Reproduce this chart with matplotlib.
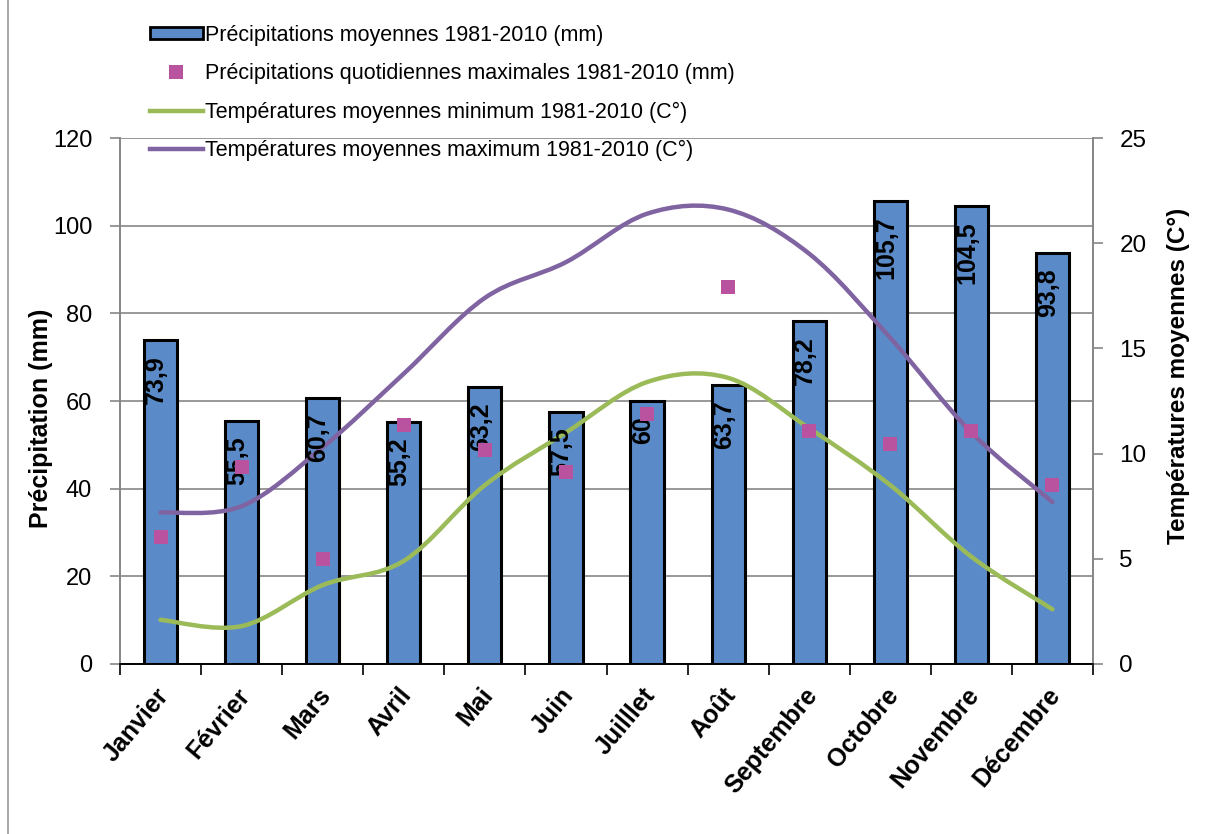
import matplotlib
matplotlib.use("Agg")
import matplotlib.pyplot as plt
from matplotlib.path import Path
from matplotlib.patches import PathPatch, Patch
from matplotlib.lines import Line2D
import matplotlib.transforms as mtransforms
import numpy as np

plt.rcParams['font.family'] = ['Liberation Sans', 'DejaVu Sans']

months = ["Janvier", "Février", "Mars", "Avril", "Mai", "Juin", "Juilllet",
          "Août", "Septembre", "Octobre", "Novembre", "Décembre"]
precip_mean = [73.9, 55.5, 60.7, 55.2, 63.2, 57.5, 60, 63.7, 78.2, 105.7, 104.5, 93.8]
precip_daily_max = [29.0, 45.0, 24.0, 54.5, 48.8, 43.9, 57.0, 85.9, 53.2, 50.1, 53.2, 40.8]
temp_min = [2.1, 1.8, 3.75, 4.9, 8.5, 11.0, 13.4, 13.6, 11.2, 8.5, 5.1, 2.6]
temp_max = [7.2, 7.5, 10.3, 13.8, 17.4, 19.1, 21.4, 21.6, 19.5, 15.5, 11.0, 7.7]

left_ticks = [0, 20, 40, 60, 80, 100, 120]
right_ticks = [0, 5, 10, 15, 20, 25]

lab_bar = "Précipitations moyennes 1981-2010 (mm)"
lab_pts = "Précipitations quotidiennes maximales 1981-2010 (mm)"
lab_min = "Températures moyennes minimum 1981-2010 (C°)"
lab_max = "Températures moyennes maximum 1981-2010 (C°)"

bar_color = '#5A8BC8'
pt_color = '#B9529F'
min_color = '#9BBB59'
max_color = '#8064A2'
grid_color = '#868686'

W, H = 1216, 834
fig = plt.figure(figsize=(W / 100, H / 100), dpi=100)
ax = fig.add_axes([120 / W, 1 - 664 / H, 973 / W, 526 / H])
ax2 = ax.twinx()

x = np.arange(len(months))

ax.set_axisbelow(True)
ax.yaxis.grid(True, color=grid_color, linewidth=1.2, zorder=0)
ax.bar(x, precip_mean, width=0.41, color=bar_color, edgecolor='black',
       linewidth=2.2, zorder=2)


def smooth_path(xs, ys):
    xs = list(xs); ys = list(ys)
    n = len(xs)
    verts = [(xs[0], ys[0])]
    codes = [Path.MOVETO]
    for i in range(n - 1):
        i0 = max(i - 1, 0)
        i3 = min(i + 2, n - 1)
        c1 = (xs[i] + (xs[i + 1] - xs[i0]) / 6, ys[i] + (ys[i + 1] - ys[i0]) / 6)
        c2 = (xs[i + 1] - (xs[i3] - xs[i]) / 6, ys[i + 1] - (ys[i3] - ys[i]) / 6)
        verts += [c1, c2, (xs[i + 1], ys[i + 1])]
        codes += [Path.CURVE4] * 3
    return Path(verts, codes)


for temps, col in [(temp_min, min_color), (temp_max, max_color)]:
    pp = PathPatch(smooth_path(x, temps), facecolor='none', edgecolor=col,
                   linewidth=3.2, transform=ax2.transData, zorder=3,
                   capstyle='round')
    ax.add_patch(pp)

lab_off = mtransforms.ScaledTranslation(-3 / 72, -11 / 72, fig.dpi_scale_trans)
for xi, v in zip(x, precip_mean):
    ax.text(xi, v, f"{v:g}".replace('.', ','), rotation=90, ha='center', va='top',
            fontsize=18, fontweight='bold', color='black', zorder=4,
            transform=ax.transData + lab_off)

ax.plot(x, precip_daily_max, linestyle='none', marker='s', markersize=9.5,
        color=pt_color, markeredgewidth=0, zorder=5)

ax.set_xlim(-0.5, len(months) - 0.5)
ax.set_ylim(0, 120)
ax2.set_ylim(0, 25)
ax.set_yticks(left_ticks)
ax2.set_yticks(right_ticks)

ax.set_xticks(x)
ax.set_xticklabels(months, rotation=50, ha='right', rotation_mode='anchor',
                   fontsize=18, fontweight='bold')
ax.set_xticks(np.arange(-0.5, len(months)), minor=True)
ax.tick_params(axis='x', which='major', length=0, pad=14)
ax.tick_params(axis='x', which='minor', length=8, width=1.2, color='black')
xoff = mtransforms.ScaledTranslation(-4 / 72, 0, fig.dpi_scale_trans)
for lbl in ax.get_xticklabels():
    lbl.set_transform(lbl.get_transform() + xoff)

ax.tick_params(axis='y', length=7, width=1.2, color=grid_color, labelsize=17, pad=13)
ax2.tick_params(axis='y', length=7, width=1.2, color=grid_color, labelsize=17.5, pad=12)

for a in (ax, ax2):
    a.spines['top'].set_visible(False)
    a.spines['left'].set_color(grid_color)
    a.spines['right'].set_color(grid_color)
    a.spines['left'].set_linewidth(1.2)
    a.spines['right'].set_linewidth(1.2)
    a.spines['bottom'].set_color('black')
    a.spines['bottom'].set_linewidth(1.2)

ax.set_ylabel("Précipitation (mm)", fontsize=18, fontweight='bold')
ax.yaxis.set_label_coords((41 - 120) / 973, (664 - 418) / 526)
ax.yaxis.label.set_ha('center'); ax.yaxis.label.set_va('center')
ax2.set_ylabel("Températures moyennes (C°)", fontsize=17.5, fontweight='bold',
               rotation=90)
ax2.yaxis.set_label_coords((1178 - 120) / 973, (664 - 376) / 526)
ax2.yaxis.label.set_ha('center'); ax2.yaxis.label.set_va('center')

handles = [
    Patch(facecolor=bar_color, edgecolor='black', linewidth=2),
    Line2D([], [], linestyle='none', marker='s', markersize=9.5, color=pt_color,
           markeredgewidth=0),
    Line2D([], [], color=min_color, linewidth=3.2),
    Line2D([], [], color=max_color, linewidth=3.2),
]
leg = fig.legend(handles, [lab_bar, lab_pts, lab_min, lab_max],
                 loc='upper left', bbox_to_anchor=(150 / W, 1 - 25 / H),
                 frameon=False, fontsize=15.5, handlelength=2.45,
                 handleheight=0.47, handletextpad=0.12, labelspacing=0.8,
                 borderpad=0, borderaxespad=0, numpoints=1)

fig.add_artist(Line2D([7.5 / W, 7.5 / W], [0, 1], transform=fig.transFigure,
                      color='#9A9A9A', linewidth=1.2))

fig.savefig("out.png", dpi=100, facecolor='white')
